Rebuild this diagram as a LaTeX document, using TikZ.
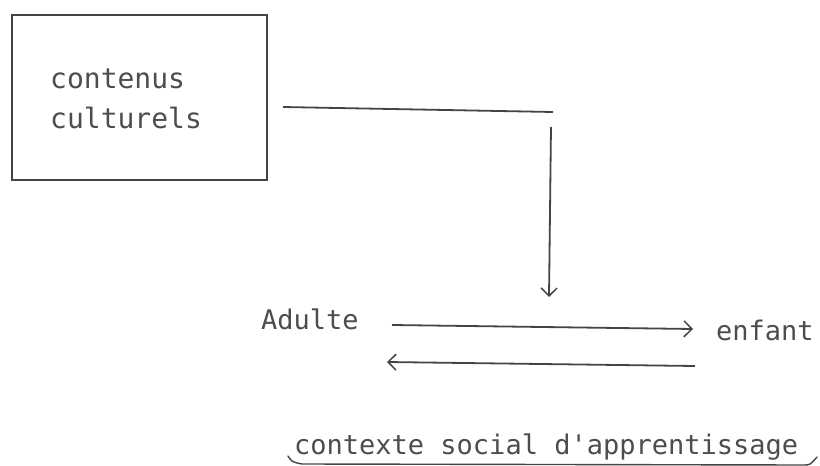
\documentclass[tikz,border=0pt]{standalone}
\usepackage{fontspec}
\setmonofont{DejaVu Sans Mono}
\usetikzlibrary{arrows.meta}
\definecolor{ink}{HTML}{444444}
\definecolor{txt}{HTML}{4D4D4D}
\tikzset{
  lbl/.style={inner sep=0pt, anchor=base west, text=txt, font=\ttfamily\fontsize{27}{32}\selectfont},
  frame/.style={draw=ink, line width=1.8pt, minimum width=255pt, minimum height=165pt, inner sep=0pt},
  wire/.style={draw=ink, line width=1.8pt},
  arr/.style={wire, -{Straight Barb[length=8pt,width=16pt,line width=1.5pt]}},
}
\begin{document}
\begin{tikzpicture}[x=1pt,y=-1pt]
\useasboundingbox (0,0) rectangle (820,466);
\node[frame] (box) at (139.5,97.5) {};
\node[lbl, font=\ttfamily\fontsize{28}{40}\selectfont] (t1) at (50,88) {contenus};
\node[lbl, font=\ttfamily\fontsize{28}{40}\selectfont] (t2) at (50,128) {culturels};
\coordinate (h1) at (283,107);
\coordinate (h2) at (553,112);
\coordinate (v1) at (551,127);
\coordinate (v2) at (549,297);
\draw[wire] (h1) -- (h2);
\draw[arr] (v1) -- (v2);
\node[lbl] (adulte) at (261,329) {Adulte};
\node[lbl] (enfant) at (716,340) {enfant};
\coordinate (r1) at (392,325);
\coordinate (r2) at (693,329);
\coordinate (l1) at (695,366);
\coordinate (l2) at (387,362);
\draw[arr] (r1) -- (r2);
\draw[arr] (l1) -- (l2);
\node[lbl] (ctx) at (294,454) {contexte social d'apprentissage};
\coordinate (u1) at (288,456);
\coordinate (u2) at (302,464);
\coordinate (u3) at (804,465);
\coordinate (u4) at (817,457);
\draw[wire, line width=1.4pt, line cap=round] (u1) .. controls (292,462) .. (u2) -- (u3) .. controls (810,465) .. (u4);
\end{tikzpicture}
\end{document}
